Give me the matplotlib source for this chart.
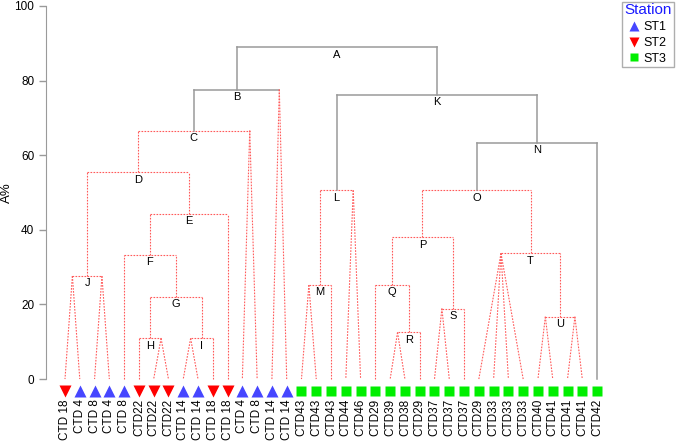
import matplotlib
matplotlib.use("Agg")
import matplotlib.pyplot as plt
from matplotlib.lines import Line2D

plt.rcParams['font.family'] = ['Liberation Sans', 'DejaVu Sans']

# leaves, left to right
leaf_labels = ["CTD 18", "CTD 4", "CTD 8", "CTD 4", "CTD 8", "CTD22", "CTD22", "CTD22",
               "CTD 14", "CTD 14", "CTD 18", "CTD 18", "CTD 4", "CTD 8", "CTD 14", "CTD 14",
               "CTD43", "CTD43", "CTD43", "CTD44", "CTD46", "CTD29", "CTD39", "CTD38",
               "CTD29", "CTD37", "CTD37", "CTD37", "CTD29", "CTD33", "CTD33", "CTD33",
               "CTD40", "CTD41", "CTD41", "CTD41", "CTD42"]
leaf_station = ["ST2", "ST1", "ST1", "ST1", "ST1", "ST2", "ST2", "ST2", "ST1", "ST1", "ST2",
                "ST2", "ST1", "ST1", "ST1", "ST1"] + ["ST3"] * 21

# node: (height %, left child, right child)
# child = node name, single leaf index (int) or tuple of identical leaves (joined at 0)
node_heights = {"A": 88.9, "B": 77.6, "C": 66.6, "D": 55.4, "E": 44.3, "F": 33.2,
                "G": 22.0, "H": 10.9, "I": 10.9, "J": 27.6, "K": 76.1, "L": 50.6,
                "M": 25.2, "N": 63.4, "O": 50.6, "P": 38.0, "Q": 25.2, "R": 12.5,
                "S": 18.9, "T": 33.7, "U": 16.7}
node_children = {"A": ("B", "K"), "B": ("C", (14, 15)), "C": ("D", (12, 13)),
                 "D": ("J", "E"), "J": ((0, 1), (2, 3)), "E": ("F", 11),
                 "F": (4, "G"), "G": ("H", "I"), "H": (5, (6, 7)), "I": ((8, 9), 10),
                 "K": ("L", "N"), "L": ("M", (19, 20)), "M": ((16, 17), 18),
                 "N": ("O", 36), "O": ("P", "T"), "P": ("Q", "S"), "Q": (21, "R"),
                 "R": ((22, 23), 24), "S": ((25, 26), 27), "T": ((28, 29, 30, 31), "U"),
                 "U": ((32, 33), (34, 35))}
significant = ["A", "B", "K", "N"]

station_style = {"ST1": ("^", "#4646ff", 8.5), "ST2": ("v", "#ff0000", 8.5),
                 "ST3": ("s", "#00ee00", 7.5)}

GRAY = "#9a9a9a"
RED = "#ff5a5a"
red_kw = dict(color=RED, lw=0.8, ls=(0, (1.5, 1.2)))
gray_kw = dict(color=GRAY, lw=1.1, ls="-")

fig = plt.figure(figsize=(6.76, 4.41), dpi=100)
ax = fig.add_axes([46 / 676, 1 - 397.7 / 441, 1 - 46 / 676, (397.7 - 6) / 441])


def center(child):
    if isinstance(child, str):
        return draw(child)
    if isinstance(child, int):
        return float(child)
    return sum(child) / len(child)


def draw(name):
    h = node_heights[name]
    sig = name in significant
    xs = [center(c) for c in node_children[name]]
    ax.plot(xs, [h, h], **(gray_kw if sig else red_kw))
    for c, x in zip(node_children[name], xs):
        if isinstance(c, tuple):
            for leaf in c:
                ax.plot([x, leaf], [h, 0], **red_kw)
        else:
            bottom = node_heights[c] if isinstance(c, str) else 0
            ax.plot([x, x], [bottom, h], **(gray_kw if sig else red_kw))
    xc = (xs[0] + xs[1]) / 2
    ax.text(xc, h - 0.6, name, ha="center", va="top", fontsize=8)
    return xc


draw("A")

for i, st in enumerate(leaf_station):
    m, c, s = station_style[st]
    ax.plot(i, -3.2, marker=m, color=c, ms=s, mec="none", clip_on=False)

ax.set_xlim(-1.285, 41.34)
ax.set_ylim(-5, 100)
ax.set_xticks(range(len(leaf_labels)))
ax.set_xticklabels(leaf_labels, rotation=90, fontsize=8.5)
ax.tick_params(axis="x", length=0, pad=1)
ax.set_yticks([0, 20, 40, 60, 80, 100])
ax.tick_params(axis="y", colors=GRAY, labelcolor="black", labelsize=8.5, length=5, width=1)
ax.set_ylabel("A%", fontsize=9.5)
ax.yaxis.set_label_coords(-0.053, 0.523)
for sp in ["top", "right", "bottom"]:
    ax.spines[sp].set_visible(False)
ax.spines["left"].set_color(GRAY)
ax.spines["left"].set_bounds(0, 100)

handles = [Line2D([], [], ls="none", marker=station_style[k][0], color=station_style[k][1],
                  ms=station_style[k][2] - 1.5, mec="none", label=k) for k in ["ST1", "ST2", "ST3"]]
leg = fig.legend(handles=handles, title="Station", loc="upper right",
                 bbox_to_anchor=(673.5 / 676, 1 - 1.5 / 441), fontsize=9, title_fontsize=11,
                 frameon=True, fancybox=False, edgecolor=GRAY, handlelength=0.7,
                 handletextpad=0.35, borderpad=0.15, labelspacing=0.3, borderaxespad=0)
leg.get_title().set_color("#1a1aff")
leg.get_frame().set_linewidth(1)

fig.savefig("out.png", dpi=100)
